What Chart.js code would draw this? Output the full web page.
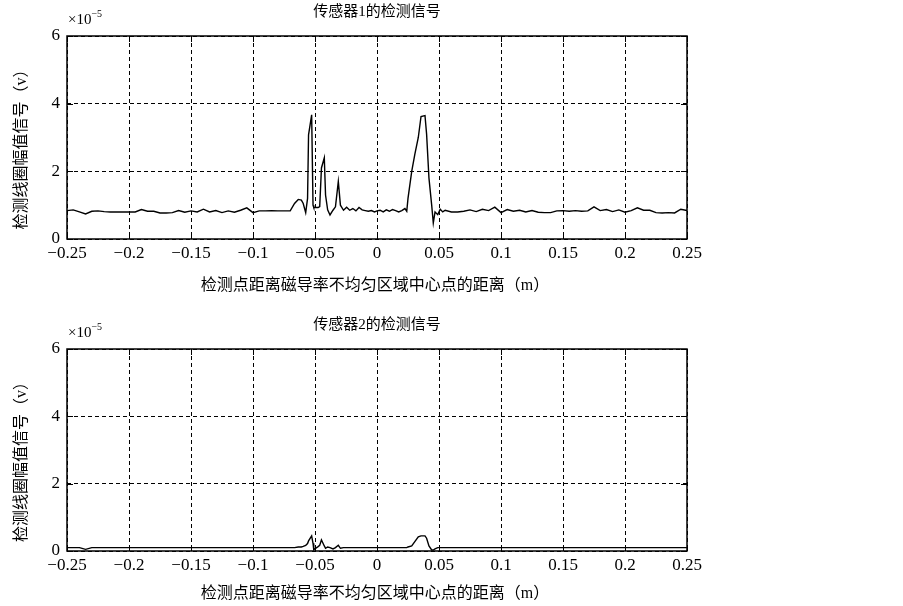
<!DOCTYPE html>
<html>
<head>
<meta charset="utf-8">
<script src="https://cdn.jsdelivr.net/npm/chart.js@4.4.1/dist/chart.umd.min.js"></script>
<style>
  html, body { margin: 0; padding: 0; background: #fff; }
  .panel { position: absolute; left: 0; width: 903px; height: 303px; }
</style>
</head>
<body>
<div class="panel" style="top:0"><canvas id="chart1" width="903" height="303"></canvas></div>
<div class="panel" style="top:303px"><canvas id="chart2" width="903" height="303"></canvas></div>
<script>
// Sample positions (m)
const positions = [
  // flat part left
  -0.25, -0.245, -0.24, -0.235, -0.23, -0.225, -0.22, -0.215, -0.21, -0.205,
  -0.2, -0.195, -0.19, -0.185, -0.18, -0.175, -0.17, -0.165, -0.16, -0.155,
  -0.15, -0.145, -0.14, -0.135, -0.13, -0.125, -0.12, -0.115, -0.11, -0.105,
  -0.1, -0.095, -0.09, -0.085, -0.08, -0.075, -0.07,
  // peak region
  -0.0665, -0.0635, -0.061, -0.0595, -0.0575, -0.056, -0.0552, -0.0527, -0.0516, -0.051,
  -0.0475, -0.0462, -0.0448, -0.0425, -0.0415, -0.0398, -0.0379, -0.0355, -0.0335, -0.0312,
  -0.0295, -0.027, -0.0245, -0.022, -0.0195, -0.017, -0.0145, -0.012, -0.0095, -0.007,
  -0.0045, -0.002, 0, 0.0025, 0.005, 0.0075, 0.01, 0.0125, 0.015, 0.0175,
  0.02, 0.0225, 0.024, 0.025, 0.028, 0.0305, 0.0333, 0.0355, 0.0387, 0.04,
  0.0419, 0.0441, 0.0454, 0.0468, 0.049, 0.051, 0.053,
  // flat part right
  0.055, 0.06, 0.065, 0.07, 0.075, 0.08, 0.085, 0.09, 0.095, 0.1,
  0.105, 0.11, 0.115, 0.12, 0.125, 0.13, 0.135, 0.14, 0.145, 0.15,
  0.155, 0.16, 0.165, 0.17, 0.175, 0.18, 0.185, 0.19, 0.195, 0.2,
  0.205, 0.21, 0.215, 0.22, 0.225, 0.23, 0.235, 0.24, 0.245, 0.25
];

// Sensor 1 amplitude (x1e-5 V)
const sensor1 = [
  0.84, 0.86, 0.80, 0.74, 0.82, 0.83, 0.81, 0.80, 0.80, 0.80,
  0.80, 0.80, 0.87, 0.82, 0.82, 0.77, 0.77, 0.78, 0.84, 0.79,
  0.83, 0.80, 0.88, 0.80, 0.84, 0.78, 0.83, 0.79, 0.85, 0.92,
  0.78, 0.83, 0.83, 0.84, 0.83, 0.83, 0.83,

  1.05, 1.17, 1.15, 1.05, 0.78, 1.2, 3.08, 3.67, 1.0, 0.93,
  0.93, 0.96, 2.1, 2.4, 1.3, 0.86, 0.71, 0.85, 0.95, 1.7,
  1.0, 0.85, 0.94, 0.85, 0.90, 0.83, 0.93, 0.86, 0.84, 0.82,
  0.84, 0.80, 0.83, 0.85, 0.80, 0.86, 0.82, 0.87, 0.84, 0.80,
  0.84, 0.90, 0.82, 1.2, 2.0, 2.5, 3.0, 3.62, 3.65, 3.1,
  1.8, 1.0, 0.47, 0.80, 0.72, 0.88, 0.80,

  0.85, 0.80, 0.80, 0.82, 0.86, 0.81, 0.88, 0.84, 0.94, 0.78,
  0.87, 0.82, 0.85, 0.80, 0.84, 0.79, 0.78, 0.78, 0.83, 0.84,
  0.82, 0.84, 0.82, 0.83, 0.95, 0.84, 0.87, 0.81, 0.86, 0.79,
  0.84, 0.92, 0.85, 0.85, 0.78, 0.77, 0.78, 0.77, 0.88, 0.84
];

// Sensor 2 amplitude (x1e-5 V)
const sensor2 = [
  0.10, 0.10, 0.10, 0.05, 0.10, 0.10, 0.10, 0.10, 0.10, 0.10,
  0.10, 0.10, 0.10, 0.10, 0.10, 0.10, 0.10, 0.10, 0.10, 0.10,
  0.10, 0.10, 0.10, 0.10, 0.10, 0.10, 0.10, 0.10, 0.10, 0.10,
  0.10, 0.10, 0.10, 0.10, 0.10, 0.10, 0.10,

  0.10, 0.12, 0.12, 0.14, 0.17, 0.22, 0.30, 0.45, 0.23, 0.04,
  0.13, 0.17, 0.33, 0.15, 0.08, 0.12, 0.10, 0.06, 0.10, 0.17,
  0.08, 0.10, 0.10, 0.10, 0.10, 0.10, 0.10, 0.10, 0.10, 0.10,
  0.10, 0.10, 0.10, 0.10, 0.10, 0.10, 0.10, 0.10, 0.10, 0.10,
  0.10, 0.10, 0.10, 0.12, 0.15, 0.28, 0.42, 0.45, 0.45, 0.38,
  0.15, 0.03, 0.03, 0.06, 0.10, 0.10, 0.10,

  0.10, 0.10, 0.10, 0.10, 0.10, 0.10, 0.10, 0.10, 0.10, 0.10,
  0.10, 0.10, 0.10, 0.10, 0.10, 0.10, 0.10, 0.10, 0.10, 0.10,
  0.10, 0.10, 0.10, 0.10, 0.10, 0.10, 0.10, 0.10, 0.10, 0.10,
  0.10, 0.10, 0.10, 0.10, 0.10, 0.10, 0.10, 0.10, 0.10, 0.10
];

const xTicks = [-0.25, -0.2, -0.15, -0.1, -0.05, 0, 0.05, 0.1, 0.15, 0.2, 0.25];
const yTicks = [0, 2, 4, 6];

const titles = ['传感器1的检测信号', '传感器2的检测信号'];
const xLabel = '检测点距离磁导率不均匀区域中心点的距离（m）';
const yLabel = '检测线圈幅值信号（v）';

const FONT = "'Liberation Serif', 'Noto Sans CJK SC', serif";

function fmtTick(v) {
  const s = String(Number(v.toFixed(2)));
  return s.replace('-', '\u2212');
}

// Box, inner ticks and texts, MATLAB style
const frame = {
  id: 'frame',
  afterDraw(chart, args, opts) {
    const { ctx, chartArea: a, scales } = chart;
    ctx.save();
    ctx.setLineDash([]);
    ctx.strokeStyle = '#000';
    ctx.lineWidth = 1;
    ctx.beginPath();
    xTicks.forEach(t => {
      const px = Math.round(scales.x.getPixelForValue(t)) + 0.5;
      ctx.moveTo(px, a.bottom); ctx.lineTo(px, a.bottom - 6);
      ctx.moveTo(px, a.top); ctx.lineTo(px, a.top + 6);
    });
    yTicks.forEach(t => {
      const py = Math.round(scales.y.getPixelForValue(t)) + 0.5;
      ctx.moveTo(a.left, py); ctx.lineTo(a.left + 6, py);
      ctx.moveTo(a.right, py); ctx.lineTo(a.right - 6, py);
    });
    ctx.stroke();
    ctx.lineWidth = 1.5;
    ctx.strokeRect(a.left, a.top, a.right - a.left, a.bottom - a.top);

    ctx.fillStyle = '#000';
    ctx.textAlign = 'center';
    ctx.textBaseline = 'middle';
    const cx = (a.left + a.right) / 2;
    ctx.font = '15px ' + FONT;
    ctx.fillText(opts.title, cx, opts.titleY);
    ctx.font = '16px ' + FONT;
    ctx.fillText(xLabel, cx - 2, opts.xLabelY);

    ctx.save();
    ctx.translate(22, (a.top + a.bottom) / 2 + 8);
    ctx.rotate(-Math.PI / 2);
    ctx.font = '16px ' + FONT;
    ctx.fillText(yLabel, 0, 0);
    ctx.restore();

    // exponent label
    ctx.textAlign = 'left';
    ctx.textBaseline = 'alphabetic';
    ctx.font = '15px ' + FONT;
    ctx.fillText('\u00d710', a.left + 1, a.top - 12);
    const w = ctx.measureText('\u00d710').width;
    ctx.font = '10px ' + FONT;
    ctx.fillText('\u22125', a.left + 1 + w, a.top - 19);
    ctx.restore();
  }
};

function makeChart(id, values, opts) {
  return new Chart(document.getElementById(id), {
    type: 'line',
    data: {
      datasets: [{
        data: positions.map((x, i) => ({ x: x, y: values[i] })),
        borderColor: '#000',
        borderWidth: 1.4,
        pointRadius: 0,
        tension: 0,
        fill: false
      }]
    },
    options: {
      responsive: false,
      animation: false,
      events: [],
      layout: { padding: { top: opts.top, right: 216, left: 0, bottom: 0 } },
      plugins: { legend: { display: false }, tooltip: { enabled: false }, frame: opts },
      scales: {
        x: {
          type: 'linear', min: -0.25, max: 0.25,
          afterBuildTicks: s => { s.ticks = xTicks.map(v => ({ value: v })); },
          afterFit: s => { s.height = opts.xHeight; },
          grid: { color: '#000', lineWidth: 1, drawTicks: false },
          border: { display: false, dash: [4, 3] },
          ticks: { color: '#000', padding: 4, maxRotation: 0, autoSkip: false,
                   font: { family: FONT, size: 17 }, callback: v => fmtTick(v) }
        },
        y: {
          min: 0, max: 6,
          afterBuildTicks: s => { s.ticks = yTicks.map(v => ({ value: v })); },
          afterFit: s => { s.width = 67; },
          grid: { color: '#000', lineWidth: 1, drawTicks: false },
          border: { display: false, dash: [4, 3] },
          ticks: { color: '#000', padding: 7, font: { family: FONT, size: 17 },
                   callback: v => fmtTick(v) }
        }
      }
    },
    plugins: [frame]
  });
}

makeChart('chart1', sensor1, { top: 36, xHeight: 64, title: titles[0], titleY: 12, xLabelY: 286 });
makeChart('chart2', sensor2, { top: 46, xHeight: 55, title: titles[1], titleY: 22, xLabelY: 291 });
</script>
</body>
</html>
